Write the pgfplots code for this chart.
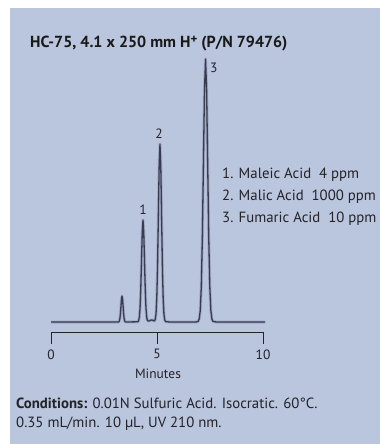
\documentclass[border=0pt]{standalone}
\usepackage{pgfplots}
\usepackage{pgfplotstable}
\pgfplotsset{compat=1.18}
\usepackage{fontspec}
\setmainfont{PT Sans}
\definecolor{panel}{RGB}{186,197,222}
\definecolor{trace}{RGB}{55,60,80}
\definecolor{halo}{RGB}{160,170,196}
\definecolor{txt}{RGB}{35,35,40}
\pgfplotstableread{
t s
0 0
3.175 0
3.20 0.3
3.225 1.1
3.25 3.5
3.275 8.4
3.30 15.8
3.325 22.9
3.35 26
3.375 22.9
3.40 15.8
3.425 8.4
3.45 3.5
3.475 1.1
3.50 0.3
3.525 0
4.095 0.2
4.13 1.1
4.165 4.5
4.20 13.8
4.235 33.1
4.27 61.9
4.305 90.0
4.34 102
4.375 90.0
4.41 61.9
4.445 33.1
4.48 13.8
4.515 4.5
4.55 1.5
4.585 1.0
4.65 1.2
4.72 2.0
4.80 1.8
4.8775 1.0
4.915 2.4
4.9525 7.8
4.99 24.1
5.0275 57.8
5.065 108.0
5.1025 157.1
5.14 178
5.1775 157.1
5.215 108.0
5.2525 57.8
5.29 24.1
5.3275 7.8
5.365 2.0
5.4025 0.4
5.6 0
6.85 0
6.94 0.6
6.99 2.9
7.04 11.5
7.09 35.6
7.14 85.4
7.19 159.5
7.24 232.1
7.29 263
7.34 232.1
7.39 159.5
7.44 85.4
7.49 35.6
7.54 11.5
7.59 2.9
7.64 0.6
7.8 0
10.1 0
}\chrom
\begin{document}
\begin{tikzpicture}
\fill[white] (0pt,0pt) rectangle (380pt,-444pt);
\fill[panel] (10pt,-8pt) rectangle (380pt,-444pt);
\begin{axis}[
  at={(51pt,-332pt)}, anchor=south west,
  scale only axis, width=212pt, height=280pt,
  xmin=0, xmax=10, ymin=-10, ymax=270,
  axis x line=bottom, axis y line=none,
  axis line style={-, line width=0.9pt, color=txt},
  xtick={0,5,10}, ytick=\empty,
  tick align=outside, major tick length=12pt,
  tick style={line width=0.9pt, color=txt},
  /pgf/number format/assume math mode=true,
  xticklabel style={font=\fontsize{13.5}{15}\selectfont, text=txt, yshift=-2pt},
  clip=false,
]
\addplot[halo, line width=3pt, line join=round] table[x=t, y=s] {\chrom};
\addplot[trace, line width=1.3pt, line join=round] table[x=t, y=s] {\chrom};
\end{axis}
\begin{scope}[every node/.style={inner sep=0pt, text=txt}]
\node[anchor=base west, font=\bfseries\fontsize{16}{18}\selectfont, text=black!90] at (30pt,-48pt) {HC-75, 4.1 x 250 mm H\raisebox{0.55ex}{\fontsize{13}{13}\selectfont +} (P/N 79476)};
\node[anchor=base, font=\fontsize{13.5}{15}\selectfont] at (143pt,-214pt) {1};
\node[anchor=base, font=\fontsize{13.5}{15}\selectfont] at (159pt,-138pt) {2};
\node[anchor=base west, font=\fontsize{13.5}{15}\selectfont] at (210pt,-72pt) {3};
\node[anchor=base west, font=\fontsize{14.8}{17}\selectfont] at (222pt,-178pt) {1. Maleic Acid\ \ 4 ppm};
\node[anchor=base west, font=\fontsize{14.8}{17}\selectfont] at (222pt,-200pt) {2. Malic Acid\ \ 1000 ppm};
\node[anchor=base west, font=\fontsize{14.8}{17}\selectfont] at (222pt,-222pt) {3. Fumaric Acid\ \ 10 ppm};
\node[anchor=base, font=\fontsize{13.5}{15}\selectfont] at (158pt,-378pt) {Minutes};
\node[anchor=base west, font=\fontsize{14.8}{17}\selectfont] at (16pt,-408pt) {\textbf{Conditions:} 0.01N Sulfuric Acid. Isocratic. 60°C.};
\node[anchor=base west, font=\fontsize{14.8}{17}\selectfont] at (16pt,-427pt) {0.35 mL/min. 10 µL, UV 210 nm.};
\end{scope}
\end{tikzpicture}
\end{document}
